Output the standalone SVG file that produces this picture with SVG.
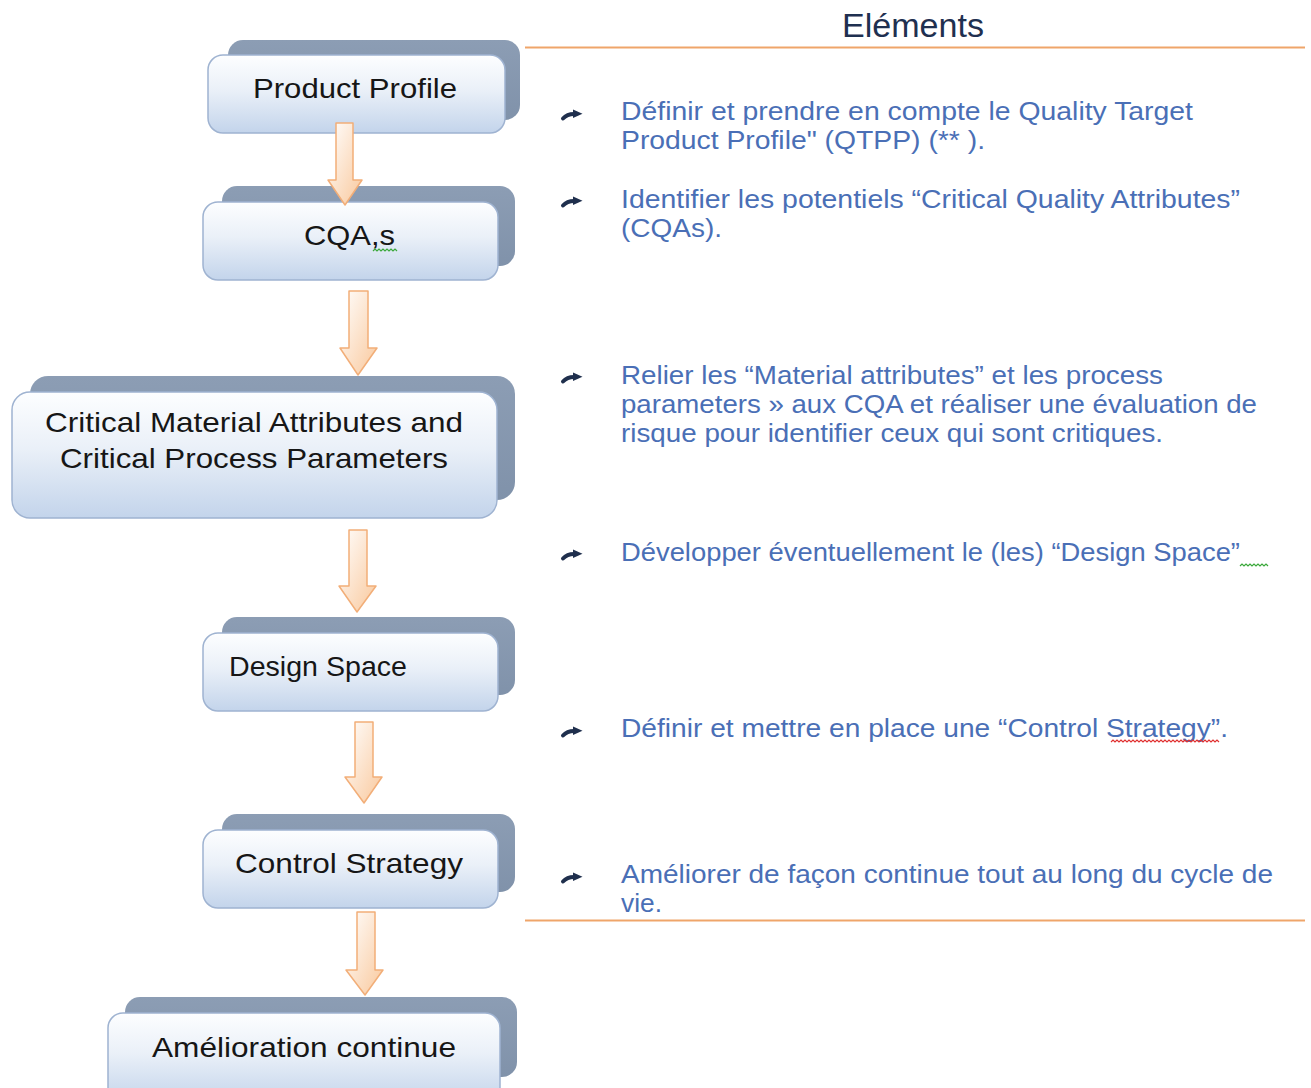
<svg xmlns="http://www.w3.org/2000/svg" xmlns:xlink="http://www.w3.org/1999/xlink" width="1311" height="1088" viewBox="0 0 1311 1088">
<defs>
<linearGradient id="gFront" x1="0" y1="0" x2="0" y2="1">
<stop offset="0" stop-color="#fdfeff"/>
<stop offset="0.45" stop-color="#eaf0f8"/>
<stop offset="1" stop-color="#c3d4eb"/>
</linearGradient>
<linearGradient id="gBack" x1="0" y1="0" x2="0" y2="1">
<stop offset="0" stop-color="#8c9db4"/>
<stop offset="1" stop-color="#8092aa"/>
</linearGradient>
<linearGradient id="gArrow" x1="0" y1="0" x2="1" y2="1">
<stop offset="0" stop-color="#ffffff"/>
<stop offset="1" stop-color="#f9c89c"/>
</linearGradient>
<g id="bullet">
<path d="M-10,4.5 Q-6,0 1,0" fill="none" stroke="#1f2f4d" stroke-width="4" stroke-linecap="round"/>
<path d="M0,-4.5 L9.5,-0.3 L0,4 Z" fill="#1f2f4d"/>
</g>
</defs>
<style>
.back{fill:url(#gBack);}
.front{fill:url(#gFront);stroke:#9fb3d1;stroke-width:1.5;}
.nt{font-family:"Liberation Sans",Arial,sans-serif;font-size:28px;fill:#161616;}
.rt{font-family:"Liberation Sans",Arial,sans-serif;font-size:25px;fill:#4a6fb6;}
.arr{fill:url(#gArrow);stroke:#f2ae78;stroke-width:1.5;stroke-linejoin:round;}
.rule{stroke:#efa56a;stroke-width:2;}
.sqg{fill:none;stroke:#3aa83a;stroke-width:1.2;}
.sqr{fill:none;stroke:#e03030;stroke-width:1.2;}
</style>
<rect width="1311" height="1088" fill="#ffffff"/>

<g id="header">
<text x="913" y="37" text-anchor="middle" font-family="Liberation Sans, Arial, sans-serif" font-size="34" fill="#1f3050" textLength="142" lengthAdjust="spacingAndGlyphs">Eléments</text>
<line class="rule" x1="525" y1="47.5" x2="1305" y2="47.5"/>
<line class="rule" x1="525" y1="920.5" x2="1305" y2="920.5"/>
</g>

<g id="node-product-profile">
<rect class="back" x="228" y="40" width="292" height="80" rx="15"/>
<rect class="front" x="208" y="55" width="297" height="78" rx="15"/>
<text class="nt" x="253" y="98" textLength="204" lengthAdjust="spacingAndGlyphs">Product Profile</text>
</g>

<g id="node-cqas">
<rect class="back" x="222" y="186" width="293" height="80" rx="15"/>
<rect class="front" x="203" y="202" width="295" height="78" rx="15"/>
<text class="nt" x="304" y="245" textLength="91" lengthAdjust="spacingAndGlyphs">CQA,s</text>
<path class="sqg" d="M373,251 l2,-2 l2,2 l2,-2 l2,2 l2,-2 l2,2 l2,-2 l2,2 l2,-2 l2,2 l2,-2 l2,2"/>
</g>

<g id="node-cma-cpp">
<rect class="back" x="30" y="376" width="485" height="124" rx="18"/>
<rect class="front" x="12" y="392" width="485" height="126" rx="18"/>
<text class="nt" x="45" y="432" textLength="418" lengthAdjust="spacingAndGlyphs">Critical Material Attributes and</text>
<text class="nt" x="60" y="468" textLength="388" lengthAdjust="spacingAndGlyphs">Critical Process Parameters</text>
</g>

<g id="node-design-space">
<rect class="back" x="222" y="617" width="293" height="78" rx="15"/>
<rect class="front" x="203" y="633" width="295" height="78" rx="15"/>
<text class="nt" x="229" y="676" textLength="178" lengthAdjust="spacingAndGlyphs">Design Space</text>
</g>

<g id="node-control-strategy">
<rect class="back" x="222" y="814" width="293" height="78" rx="15"/>
<rect class="front" x="203" y="830" width="295" height="78" rx="15"/>
<text class="nt" x="235" y="873" textLength="228" lengthAdjust="spacingAndGlyphs">Control Strategy</text>
</g>

<g id="node-amelioration">
<rect class="back" x="125" y="997" width="392" height="80" rx="15"/>
<rect class="front" x="108" y="1013" width="392" height="90" rx="15"/>
<text class="nt" x="152" y="1057" textLength="304" lengthAdjust="spacingAndGlyphs">Amélioration continue</text>
</g>

<g id="connectors">
<path class="arr" d="M336,123 L353,123 L353,180 L362,180 L345,205 L328,180 L336,180 Z"/>
<path class="arr" d="M349,291 L368,291 L368,348 L377,348 L358,375 L340,348 L349,348 Z"/>
<path class="arr" d="M349,530 L367,530 L367,586 L376,586 L357,612 L339,586 L349,586 Z"/>
<path class="arr" d="M355,722 L373,722 L373,777 L382,777 L364,803 L345,777 L355,777 Z"/>
<path class="arr" d="M357,912 L375,912 L375,970 L383,970 L365,995 L346,970 L357,970 Z"/>
</g>

<g id="elements-list">
<use xlink:href="#bullet" href="#bullet" x="573" y="114"/>
<text class="rt" x="621" y="120" textLength="572" lengthAdjust="spacingAndGlyphs">Définir et prendre en compte le Quality Target</text>
<text class="rt" x="621" y="149" textLength="364" lengthAdjust="spacingAndGlyphs">Product Profile" (QTPP) (** ).</text>

<use xlink:href="#bullet" href="#bullet" x="573" y="201"/>
<text class="rt" x="621" y="208" textLength="619" lengthAdjust="spacingAndGlyphs">Identifier les potentiels “Critical Quality Attributes”</text>
<text class="rt" x="621" y="237" textLength="101" lengthAdjust="spacingAndGlyphs">(CQAs).</text>

<use xlink:href="#bullet" href="#bullet" x="573" y="377"/>
<text class="rt" x="621" y="384" textLength="542" lengthAdjust="spacingAndGlyphs">Relier les “Material attributes” et les process</text>
<text class="rt" x="621" y="413" textLength="636" lengthAdjust="spacingAndGlyphs">parameters » aux CQA et réaliser une évaluation de</text>
<text class="rt" x="621" y="442" textLength="542" lengthAdjust="spacingAndGlyphs">risque pour identifier ceux qui sont critiques.</text>

<use xlink:href="#bullet" href="#bullet" x="573" y="554"/>
<text class="rt" x="621" y="561" textLength="619" lengthAdjust="spacingAndGlyphs">Développer éventuellement le (les) “Design Space”</text>
<path class="sqg" d="M1240,566 l2,-2 l2,2 l2,-2 l2,2 l2,-2 l2,2 l2,-2 l2,2 l2,-2 l2,2 l2,-2 l2,2 l2,-2 l2,2"/>

<use xlink:href="#bullet" href="#bullet" x="573" y="731"/>
<text class="rt" x="621" y="737" textLength="607" lengthAdjust="spacingAndGlyphs">Définir et mettre en place une “Control Strategy”.</text>
<path class="sqr" d="M1111,742 l2,-2 l2,2 l2,-2 l2,2 l2,-2 l2,2 l2,-2 l2,2 l2,-2 l2,2 l2,-2 l2,2 l2,-2 l2,2 l2,-2 l2,2 l2,-2 l2,2 l2,-2 l2,2 l2,-2 l2,2 l2,-2 l2,2 l2,-2 l2,2 l2,-2 l2,2 l2,-2 l2,2 l2,-2 l2,2 l2,-2 l2,2 l2,-2 l2,2 l2,-2 l2,2 l2,-2 l2,2 l2,-2 l2,2 l2,-2 l2,2 l2,-2 l2,2 l2,-2 l2,2 l2,-2 l2,2 l2,-2 l2,2 l2,-2 l2,2"/>

<use xlink:href="#bullet" href="#bullet" x="573" y="877"/>
<text class="rt" x="621" y="883" textLength="652" lengthAdjust="spacingAndGlyphs">Améliorer de façon continue tout au long du cycle de</text>
<text class="rt" x="621" y="912" textLength="41" lengthAdjust="spacingAndGlyphs">vie.</text>
</g>
</svg>
